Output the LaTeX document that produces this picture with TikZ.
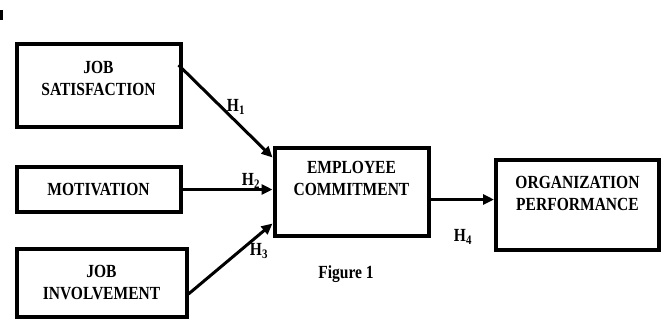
\documentclass[tikz,border=0pt]{standalone}
\usepackage{fontspec}
\setmainfont{Liberation Serif}[FakeStretch=0.84]
\usetikzlibrary{arrows.meta}

\begin{document}
\begin{tikzpicture}[x=1pt, y=-1pt, line width=3pt,
                    font=\bfseries\fontsize{18.5}{22}\selectfont]

    \tikzstyle{box}=[draw, line width=4pt, align=center, inner sep=0pt]
    \tikzstyle{hyp}=[inner sep=0pt]
    \tikzstyle{arr}=[-{Triangle[length=11pt,width=10pt]}]

    \useasboundingbox (0,0) rectangle (664,327);
    \fill (0,10) rectangle (3,20);

    % left side
    \node[box, minimum width=164pt, minimum height=83pt, text depth=14pt] (sat) at (98.5,85) {JOB\\SATISFACTION};
    \node[box, minimum width=164pt, minimum height=45pt] (mot) at (98.5,189.5) {MOTIVATION};
    \node[box, minimum width=170pt, minimum height=68pt] (inv) at (101.5,283) {JOB\\INVOLVEMENT};

    % middle and right
    \node[box, minimum width=154pt, minimum height=88pt, text depth=26pt] (emp) at (351.5,191.5) {EMPLOYEE\\COMMITMENT};
    \node[box, minimum width=163pt, minimum height=90pt, text depth=24pt] (org) at (577.5,205) {ORGANIZATION\\PERFORMANCE};

    \draw[arr] ([xshift=-4pt,yshift=20pt]sat.east) -- ([yshift=34pt]emp.west);
    \draw[arr] (mot.east) -- (mot.east -| emp.west);
    \draw[arr] ([yshift=-11pt]inv.east) -- ([yshift=-32pt]emp.west);
    \draw[arr] ([yshift=-8pt]emp.east) -- ([yshift=-8pt]emp.east -| org.west);

    \node[hyp] (h1) at (236,107) {H\textsubscript{1}};
    \node[hyp] (h2) at (251,181) {H\textsubscript{2}};
    \node[hyp] (h3) at (259,251) {H\textsubscript{3}};
    \node[hyp] (h4) at (463,237) {H\textsubscript{4}};
    \node[hyp] (fig) at (346,274) {Figure 1};
\end{tikzpicture}
\end{document}
